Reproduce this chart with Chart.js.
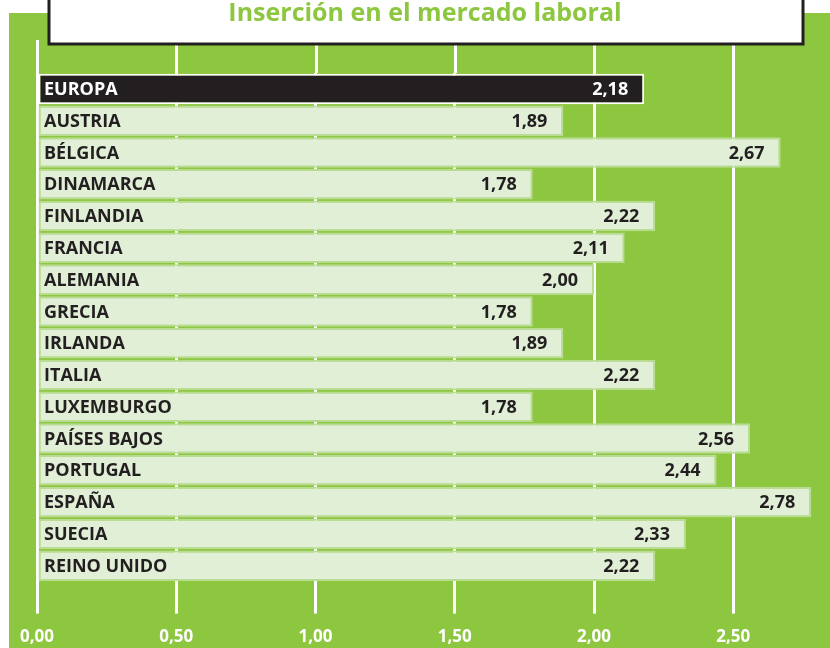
<!DOCTYPE html>
<html lang="es">
  <head>
    <meta charset="UTF-8" />
    <title>Inserción en el mercado laboral</title>
    <script src="https://cdn.jsdelivr.net/npm/chart.js"></script>
    <style>
      html, body { margin: 0; padding: 0; background: #ffffff; }
      #grafico { display: block; }
    </style>
  </head>
  <body>
    <canvas id="grafico" width="830" height="648"></canvas>
    <script>
      // datos
      const paises = [
        "EUROPA", "AUSTRIA", "BÉLGICA", "DINAMARCA", "FINLANDIA", "FRANCIA",
        "ALEMANIA", "GRECIA", "IRLANDA", "ITALIA", "LUXEMBURGO", "PAÍSES BAJOS",
        "PORTUGAL", "ESPAÑA", "SUECIA", "REINO UNIDO"
      ];
      const valores = [
        2.18, 1.89, 2.67, 1.78, 2.22, 2.11, 2.00, 1.78, 1.89, 2.22, 1.78, 2.56,
        2.44, 2.78, 2.33, 2.22
      ];
      const marcasX = [0, 0.5, 1, 1.5, 2, 2.5];
      const titulo = "Inserción en el mercado laboral";

      const verde = "#8dc63f";
      const fuente = "'Open Sans', sans-serif";

      function coma(v, dec) {
        return Number(v).toFixed(dec).replace(".", ",");
      }

      // fondo verde + caja del titulo
      const fondoPlugin = {
        id: "fondo",
        beforeDraw(chart) {
          const ctx = chart.ctx;
          ctx.save();
          ctx.fillStyle = verde;
          ctx.fillRect(9, 13, chart.width - 9, chart.height - 13);
          // lineas de la cuadricula por encima de las barras
          const x = chart.scales.x;
          ctx.strokeStyle = "#ffffff";
          ctx.lineWidth = 3;
          marcasX.forEach(function (v) {
            const px = Math.round(x.getPixelForValue(v)) + 0.5;
            ctx.beginPath();
            ctx.moveTo(px, 40);
            ctx.lineTo(px, chart.chartArea.top);
            ctx.stroke();
          });
          ctx.restore();
        },
        afterDraw(chart) {
          const ctx = chart.ctx;
          ctx.save();
          ctx.fillStyle = "#ffffff";
          ctx.strokeStyle = "#231f20";
          ctx.lineWidth = 3;
          ctx.fillRect(49, -4, 754, 48);
          ctx.strokeRect(49, -4, 754, 48);
          ctx.fillStyle = verde;
          ctx.font = "bold 25px " + fuente;
          ctx.textAlign = "center";
          ctx.textBaseline = "alphabetic";
          ctx.fillText(titulo, 425, 21);
          ctx.restore();
        }
      };

      // etiquetas dentro de las barras
      const etiquetasPlugin = {
        id: "etiquetas",
        afterDatasetsDraw(chart) {
          const ctx = chart.ctx;
          const meta = chart.getDatasetMeta(0);
          ctx.save();
          ctx.font = "bold 18px " + fuente;
          ctx.textBaseline = "middle";
          meta.data.forEach(function (barra, i) {
            ctx.fillStyle = i === 0 ? "#ffffff" : "#231f20";
            ctx.textAlign = "left";
            ctx.fillText(paises[i], chart.chartArea.left + 7, barra.y + 1);
            ctx.textAlign = "right";
            ctx.fillText(coma(valores[i], 2), barra.x - 16, barra.y + 1);
          });
          ctx.restore();
        }
      };

      const config = {
        type: "bar",
        data: {
          labels: paises,
          datasets: [
            {
              data: valores,
              backgroundColor: paises.map((p, i) => (i === 0 ? "#231f20" : "#e1efd7")),
              borderColor: paises.map((p, i) => (i === 0 ? "#ffffff" : "#b7dc92")),
              borderWidth: 2,
              borderSkipped: false,
              categoryPercentage: 1,
              barPercentage: 0.96,
            },
          ],
        },
        options: {
          indexAxis: "y",
          responsive: false,
          animation: false,
          layout: {
            padding: { top: 73, left: 37, right: 2, bottom: -12 },
          },
          scales: {
            x: {
              min: 0,
              max: 2.84,
              afterBuildTicks: function (scale) {
                scale.ticks = marcasX.map((v) => ({ value: v }));
              },
              grid: {
                color: "#ffffff",
                lineWidth: 3,
                drawTicks: true,
                tickLength: 32,
              },
              border: { display: false },
              ticks: {
                color: "#ffffff",
                padding: 13,
                font: { family: fuente, size: 17, weight: "bold" },
                callback: (v) => coma(v, 2),
              },
            },
            y: {
              display: false,
            },
          },
          plugins: {
            legend: { display: false },
            tooltip: { enabled: false },
          },
        },
        plugins: [fondoPlugin, etiquetasPlugin],
      };

      new Chart(document.getElementById("grafico"), config);
    </script>
  </body>
</html>
